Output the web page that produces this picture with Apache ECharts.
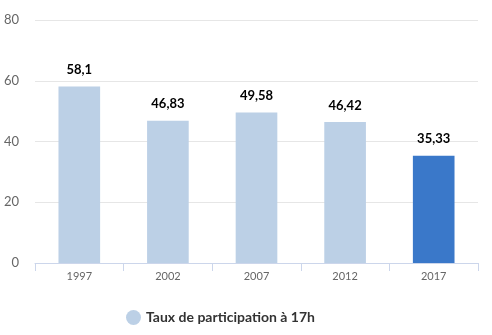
<!DOCTYPE html>
<html><head><meta charset="utf-8">
<script src="https://cdn.jsdelivr.net/npm/echarts@6/dist/echarts.min.js"></script>
<style>html,body{margin:0;padding:0;background:#fff}#c{width:492px;height:335px}</style>
</head><body><div id="c"></div>
<script>
const categories = ['1997','2002','2007','2012','2017'];
const values = [58.1, 46.83, 49.58, 46.42, 35.33];
const labels = ['58,1','46,83','49,58','46,42','35,33'];
const yTicks = [0,20,40,60,80];
const seriesName = 'Taux de participation à 17h';
const light = '#bcd0e6', dark = '#3a78c9';
const chart = echarts.init(document.getElementById('c'), null, {renderer:'canvas'});
chart.setOption({
  animation:false,
  textStyle:{fontFamily:'Lato'},
  grid:{left:35,right:14,top:20,bottom:72},
  legend:{left:121,top:305,icon:'circle',itemWidth:15,itemHeight:15,itemGap:8,
    textStyle:{fontSize:14,fontWeight:'bold',color:'#333',fontFamily:'Lato'},
    data:[{name:seriesName,itemStyle:{color:light}}]},
  xAxis:{type:'category',data:categories,
    axisLine:{lineStyle:{color:'#ccd6eb'}},
    axisTick:{show:true,length:8,lineStyle:{color:'#ccd6eb'}},
    axisLabel:{color:'#666',fontSize:11,margin:8}},
  yAxis:{type:'value',min:yTicks[0],max:yTicks[yTicks.length-1],interval:20,
    splitLine:{lineStyle:{color:'#e6e6e6'}},
    axisLabel:{color:'#666',fontSize:13,margin:16}},
  series:[{name:seriesName,type:'bar',barWidth:'47%',
    data:values.map((v,i)=>({value:v,itemStyle:{color:i===values.length-1?dark:light}})),
    label:{show:true,position:'top',distance:10,fontSize:13,fontWeight:'bold',color:'#000',
      formatter:p=>labels[p.dataIndex]}}]
});
</script></body></html>
